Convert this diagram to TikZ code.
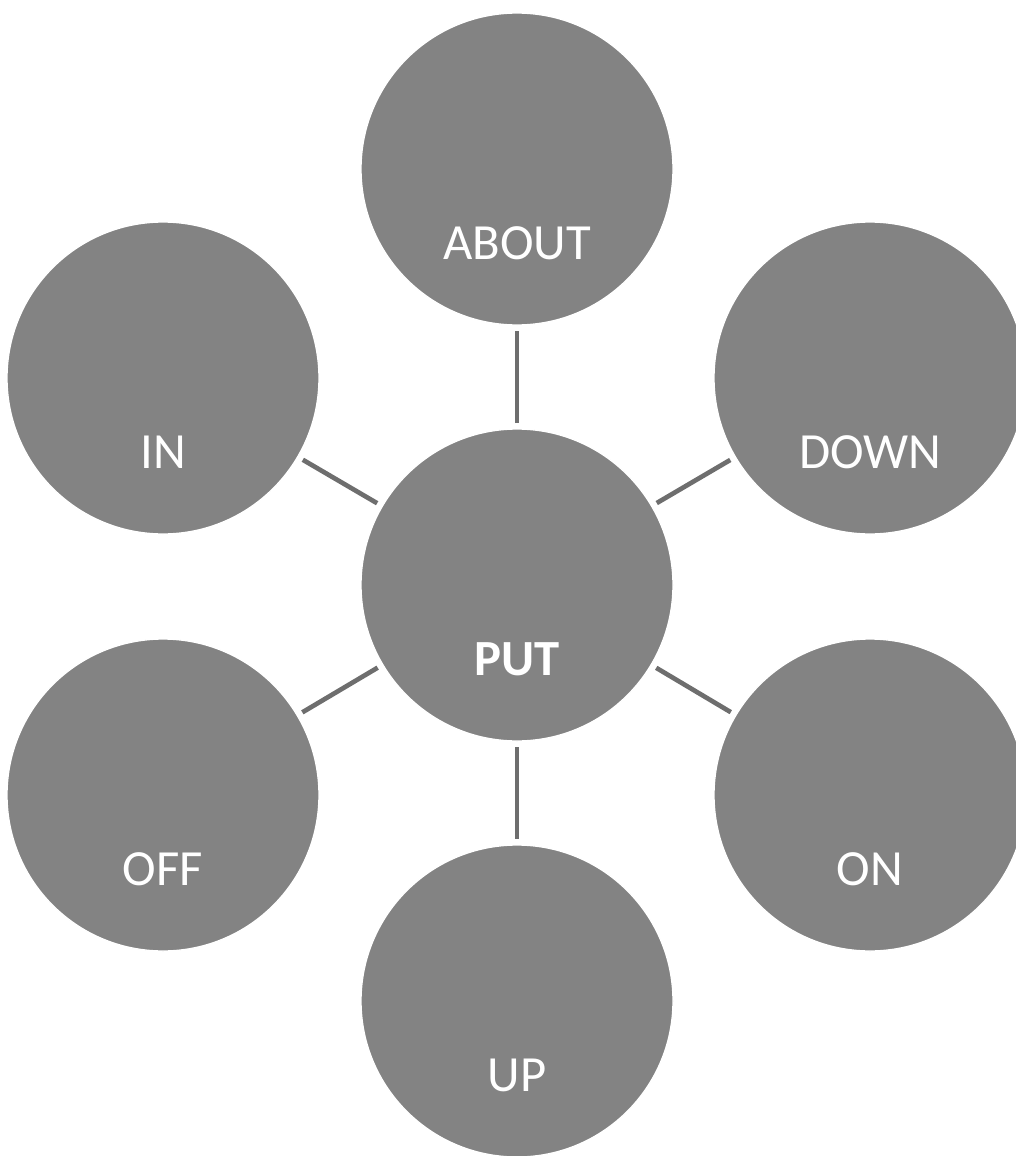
\documentclass[tikz,border=0pt]{standalone}
\usepackage{fontspec}
\setmainfont{Carlito}
\definecolor{bubblefill}{HTML}{838383}
\definecolor{linkgray}{HTML}{6E6E6E}
\begin{document}
\begin{tikzpicture}[x=0.75pt,y=-0.75pt,
  bubble/.style={circle,fill=bubblefill,draw=white,line width=1pt,minimum size=234pt,inner sep=0pt},
  word/.style={text=white,font=\fontsize{38}{40}\selectfont,inner sep=0pt},
  link/.style={draw=linkgray,line width=3.5pt,shorten <=4pt,shorten >=4pt}]
  \useasboundingbox (0,0) rectangle (1016,1156);
  % circles
  \node[bubble] (put)   at (517,585)  {};
  \node[bubble] (about) at (517,169)  {};
  \node[bubble] (in)    at (163,378)  {};
  \node[bubble] (down)  at (870,378)  {};
  \node[bubble] (off)   at (163,795)  {};
  \node[bubble] (on)    at (870,795)  {};
  \node[bubble] (up)    at (517,1001) {};
  % labels, set in the lower half of each circle
  \node[word,font=\fontsize{38}{40}\selectfont\bfseries] (putw) at ([yshift=-56pt]put.center) {PUT};
  \node[word] (aboutw) at ([yshift=-56pt]about.center) {ABOUT};
  \node[word] (inw)    at ([yshift=-56pt]in.center) {IN};
  \node[word] (downw)  at ([yshift=-56pt]down.center) {DOWN};
  \node[word] (offw)   at ([yshift=-56pt]off.center) {OFF};
  \node[word] (onw)    at ([yshift=-56pt]on.center) {ON};
  \node[word] (upw)    at ([yshift=-56pt]up.center) {UP};
  % spokes
  \draw[link] (put) -- (about);
  \draw[link] (put) -- (in);
  \draw[link] (put) -- (down);
  \draw[link] (put) -- (off);
  \draw[link] (put) -- (on);
  \draw[link] (put) -- (up);
\end{tikzpicture}
\end{document}
